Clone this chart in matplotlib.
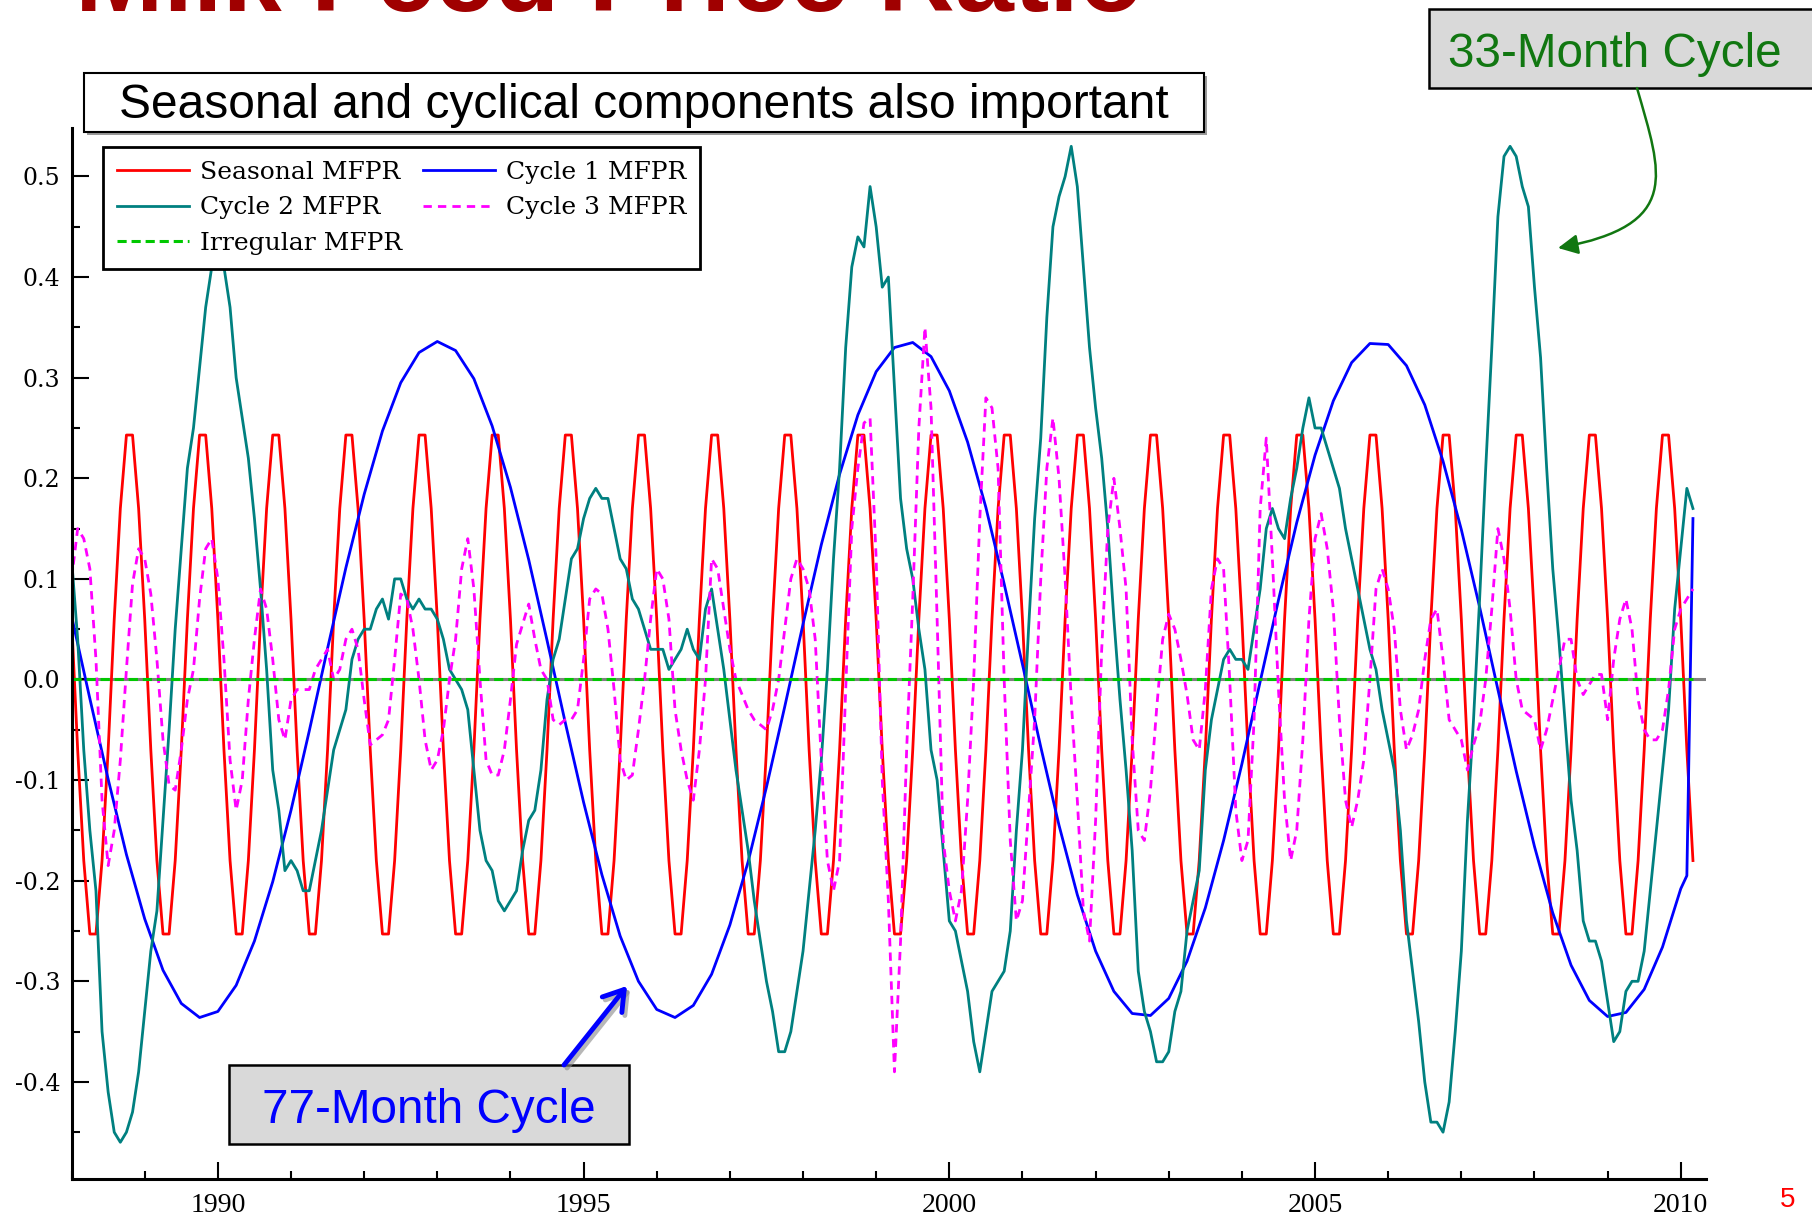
"""
Milk Feed Price Ratio: seasonal, cyclical and irregular components,
monthly from Jan 1988 to Mar 2010, with the slide annotations.
"""

import numpy as np
import matplotlib
matplotlib.use("Agg")
import matplotlib.pyplot as plt
from matplotlib.patches import Rectangle, FancyArrowPatch
from matplotlib.path import Path
from matplotlib.ticker import MultipleLocator, FormatStrFormatter

plt.rcParams["axes.unicode_minus"] = False

# ---------------------------------------------------------------- data
START_YEAR = 1988

# seasonal factor, Jan..Dec (repeats identically every year)
SEASONAL_BY_MONTH = [0.06, -0.07, -0.18, -0.253, -0.253, -0.18,
                     -0.07, 0.06, 0.17, 0.243, 0.243, 0.17]

# 77-month cycle, read every third month (month index from Jan 1988)
CYCLE1_MONTHS = list(range(0, 265, 3)) + [265, 266]
CYCLE1 = [
    0.063, -0.019, -0.099, -0.174, -0.238, -0.289, -0.322, -0.336,
    -0.330, -0.304, -0.260, -0.201, -0.130, -0.051, 0.031, 0.111,
    0.184, 0.247, 0.295, 0.325, 0.336, 0.327, 0.299, 0.252,
    0.191, 0.119, 0.039, -0.043, -0.122, -0.194, -0.255, -0.300,
    -0.328, -0.336, -0.324, -0.293, -0.244, -0.181, -0.107, -0.027,
    0.055, 0.134, 0.204, 0.263, 0.306, 0.330, 0.335, 0.321,
    0.287, 0.236, 0.171, 0.095, 0.015, -0.067, -0.145, -0.214,
    -0.270, -0.310, -0.332, -0.334, -0.317, -0.280, -0.227, -0.160,
    -0.084, -0.002, 0.079, 0.156, 0.223, 0.277, 0.315, 0.334,
    0.333, 0.312, 0.273, 0.217, 0.149, 0.072, -0.010, -0.091,
    -0.166, -0.232, -0.284, -0.319, -0.335, -0.331, -0.308, -0.266,
    -0.208, -0.195, 0.16,
]

# 33-month cycle, monthly (one row per year)
CYCLE2 = [
    0.12, 0.04, -0.07, -0.15, -0.21, -0.35, -0.41, -0.45, -0.46, -0.45, -0.43, -0.39,
    -0.33, -0.27, -0.23, -0.14, -0.05, 0.05, 0.13, 0.21, 0.25, 0.31, 0.37, 0.41,
    0.42, 0.41, 0.37, 0.30, 0.26, 0.22, 0.16, 0.09, 0.01, -0.09, -0.13, -0.19,
    -0.18, -0.19, -0.21, -0.21, -0.18, -0.15, -0.11, -0.07, -0.05, -0.03, 0.02, 0.04,
    0.05, 0.05, 0.07, 0.08, 0.06, 0.10, 0.10, 0.08, 0.07, 0.08, 0.07, 0.07,
    0.06, 0.04, 0.01, 0.00, -0.01, -0.03, -0.09, -0.15, -0.18, -0.19, -0.22, -0.23,
    -0.22, -0.21, -0.17, -0.14, -0.13, -0.09, -0.02, 0.02, 0.04, 0.08, 0.12, 0.13,
    0.16, 0.18, 0.19, 0.18, 0.18, 0.15, 0.12, 0.11, 0.08, 0.07, 0.05, 0.03,
    0.03, 0.03, 0.01, 0.02, 0.03, 0.05, 0.03, 0.02, 0.07, 0.09, 0.05, 0.01,
    -0.04, -0.09, -0.13, -0.17, -0.22, -0.26, -0.30, -0.33, -0.37, -0.37, -0.35, -0.31,
    -0.27, -0.21, -0.15, -0.08, 0.01, 0.12, 0.21, 0.33, 0.41, 0.44, 0.43, 0.49,
    0.45, 0.39, 0.40, 0.29, 0.18, 0.13, 0.10, 0.05, 0.01, -0.07, -0.10, -0.17,
    -0.24, -0.25, -0.28, -0.31, -0.36, -0.39, -0.35, -0.31, -0.30, -0.29, -0.25, -0.15,
    -0.07, 0.05, 0.16, 0.24, 0.36, 0.45, 0.48, 0.50, 0.53, 0.49, 0.41, 0.33,
    0.27, 0.22, 0.15, 0.06, -0.02, -0.09, -0.17, -0.29, -0.33, -0.35, -0.38, -0.38,
    -0.37, -0.33, -0.31, -0.25, -0.22, -0.19, -0.09, -0.04, -0.01, 0.02, 0.03, 0.02,
    0.02, 0.01, 0.05, 0.09, 0.15, 0.17, 0.15, 0.14, 0.18, 0.21, 0.25, 0.28,
    0.25, 0.25, 0.23, 0.21, 0.19, 0.15, 0.12, 0.09, 0.06, 0.03, 0.01, -0.03,
    -0.06, -0.09, -0.15, -0.24, -0.29, -0.34, -0.40, -0.44, -0.44, -0.45, -0.42, -0.35,
    -0.27, -0.14, -0.04, 0.08, 0.21, 0.33, 0.46, 0.52, 0.53, 0.52, 0.49, 0.47,
    0.39, 0.32, 0.21, 0.11, 0.04, -0.04, -0.12, -0.17, -0.24, -0.26, -0.26, -0.28,
    -0.32, -0.36, -0.35, -0.31, -0.30, -0.30, -0.27, -0.21, -0.15, -0.09, -0.03, 0.07,
    0.13, 0.19, 0.17,
]

# short cycle, monthly (one row per year)
CYCLE3 = [
    0.10, 0.15, 0.14, 0.11, 0.02, -0.12, -0.185, -0.15, -0.08, 0.01, 0.095, 0.13,
    0.12, 0.085, 0.02, -0.06, -0.105, -0.11, -0.07, -0.02, 0.01, 0.08, 0.13, 0.14,
    0.10, 0.02, -0.08, -0.13, -0.10, -0.02, 0.04, 0.09, 0.07, 0.02, -0.04, -0.06,
    -0.02, -0.01, -0.01, -0.01, 0.01, 0.02, 0.03, 0.00, 0.01, 0.04, 0.05, 0.03,
    -0.02, -0.065, -0.06, -0.055, -0.04, 0.02, 0.085, 0.08, 0.05, 0.00, -0.06, -0.09,
    -0.08, -0.05, 0.00, 0.04, 0.11, 0.14, 0.09, 0.00, -0.08, -0.095, -0.095, -0.07,
    -0.02, 0.035, 0.055, 0.075, 0.04, 0.01, 0.00, -0.04, -0.045, -0.04, -0.04, -0.03,
    0.02, 0.08, 0.09, 0.085, 0.05, -0.01, -0.08, -0.10, -0.095, -0.05, 0.00, 0.06,
    0.11, 0.10, 0.06, -0.03, -0.07, -0.10, -0.12, -0.07, 0.00, 0.12, 0.11, 0.07,
    0.03, 0.00, -0.015, -0.03, -0.04, -0.045, -0.05, -0.03, 0.00, 0.05, 0.10, 0.12,
    0.11, 0.09, 0.04, -0.08, -0.18, -0.21, -0.18, -0.01, 0.15, 0.21, 0.255, 0.26,
    0.12, -0.10, -0.22, -0.39, -0.26, -0.07, 0.08, 0.25, 0.35, 0.27, 0.06, -0.16,
    -0.21, -0.24, -0.21, -0.12, 0.00, 0.16, 0.28, 0.27, 0.21, 0.00, -0.16, -0.24,
    -0.22, -0.13, -0.04, 0.10, 0.21, 0.26, 0.20, 0.10, -0.02, -0.12, -0.23, -0.26,
    -0.14, 0.03, 0.15, 0.20, 0.15, 0.09, -0.06, -0.15, -0.16, -0.11, -0.03, 0.04,
    0.065, 0.05, 0.02, -0.015, -0.06, -0.07, -0.01, 0.09, 0.12, 0.11, 0.00, -0.13,
    -0.18, -0.16, -0.04, 0.17, 0.24, 0.12, -0.01, -0.12, -0.18, -0.15, -0.06, 0.06,
    0.14, 0.165, 0.13, 0.07, -0.04, -0.12, -0.147, -0.12, -0.08, 0.00, 0.09, 0.11,
    0.09, 0.05, -0.03, -0.07, -0.055, -0.03, 0.02, 0.06, 0.07, 0.02, -0.04, -0.05,
    -0.06, -0.09, -0.065, -0.045, 0.00, 0.07, 0.15, 0.12, 0.07, 0.00, -0.03, -0.035,
    -0.04, -0.07, -0.05, -0.02, 0.01, 0.04, 0.04, 0.00, -0.015, -0.005, 0.005, 0.005,
    -0.04, 0.02, 0.06, 0.08, 0.05, -0.02, -0.05, -0.06, -0.06, -0.05, -0.01, 0.05,
    0.07, 0.08, 0.09,
]

# irregular component sits on zero for the whole span
IRREGULAR_MONTHS = [0, 266]
IRREGULAR = [0.0, 0.0]

# ---------------------------------------------------------------- style
W, H = 1812, 1221
RED = "#ff0000"
BLUE = "#0000ff"
TEAL = "#008080"
MAGENTA = "#ff00ff"
GREEN = "#00c800"
DARK_GREEN = "#117711"
BOX_GRAY = "#d9d9d9"


def fx(x):
    return x / W


def fy(y):
    return 1 - y / H


def month_to_year(m):
    return START_YEAR + np.asarray(m, dtype=float) / 12.0


def main():
    months = np.arange(len(CYCLE2))
    t = month_to_year(months)
    seasonal = np.tile(SEASONAL_BY_MONTH, len(months) // 12 + 1)[:len(months)]

    fig = plt.figure(figsize=(W / 100, H / 100), dpi=100)
    ax = fig.add_axes([0.0395, 0.034, 0.9018, 0.861])

    ax.axhline(0, color="#808080", lw=2.2, zorder=1)
    lw = 2.0
    h_seas, = ax.plot(t, seasonal, color=RED, lw=lw, label="Seasonal MFPR")
    h_c1, = ax.plot(month_to_year(CYCLE1_MONTHS), CYCLE1, color=BLUE, lw=lw,
                    label="Cycle 1 MFPR")
    h_c2, = ax.plot(t, CYCLE2, color=TEAL, lw=lw, label="Cycle 2 MFPR")
    h_c3, = ax.plot(t, CYCLE3, color=MAGENTA, lw=lw, dashes=(3, 2.2),
                    label="Cycle 3 MFPR")
    h_irr, = ax.plot(month_to_year(IRREGULAR_MONTHS), IRREGULAR, color=GREEN,
                     lw=2.2, dashes=(3, 1.6), label="Irregular MFPR")

    ax.set_xlim(1988, 2010.34)
    ax.set_ylim(-0.497, 0.548)

    ax.xaxis.set_major_locator(MultipleLocator(5))
    ax.xaxis.set_minor_locator(MultipleLocator(1))
    ax.yaxis.set_major_locator(MultipleLocator(0.1))
    ax.yaxis.set_minor_locator(MultipleLocator(0.05))
    ax.xaxis.set_major_formatter(FormatStrFormatter("%d"))
    ax.yaxis.set_major_formatter(FormatStrFormatter("%.1f"))

    ax.tick_params(which="both", direction="in", color="black", width=1.5)
    ax.tick_params(which="major", length=12)
    ax.tick_params(which="minor", length=6)
    ax.tick_params(axis="x", pad=10, labelsize=20)
    ax.tick_params(axis="y", pad=8, labelsize=17)
    for lab in ax.get_xticklabels():
        lab.set_family("Liberation Serif")
    for lab in ax.get_yticklabels():
        lab.set_family("DejaVu Serif")

    for s in ("top", "right"):
        ax.spines[s].set_visible(False)
    for s in ("left", "bottom"):
        ax.spines[s].set_linewidth(2.2)
        ax.spines[s].set_color("black")

    leg = ax.legend(handles=[h_seas, h_c2, h_irr, h_c1, h_c3], ncol=2,
                    loc="upper left", bbox_to_anchor=(0.0192, 0.982),
                    borderaxespad=0, fancybox=False, framealpha=1,
                    edgecolor="black",
                    prop={"family": "DejaVu Serif", "size": 18},
                    handlelength=2.9, handletextpad=0.45, columnspacing=0.8,
                    labelspacing=0.5, borderpad=0.55)
    leg.get_frame().set_linewidth(2)

    # slide title, cut off by the top edge
    fig.text(fx(75), fy(11), "Milk Feed Price Ratio", fontsize=76.5,
             fontweight="bold", color="#a00000", family="Liberation Sans",
             ha="left", va="baseline")

    # subtitle box
    fig.add_artist(Rectangle((fx(87), fy(135)), 1120 / W, 59 / H,
                             transform=fig.transFigure, facecolor="#9a9a9a",
                             edgecolor="none"))
    fig.add_artist(Rectangle((fx(84), fy(132)), 1120 / W, 59 / H,
                             transform=fig.transFigure, facecolor="white",
                             edgecolor="black", lw=1.5))
    fig.text(fx(644), fy(118), "Seasonal and cyclical components also important",
             fontsize=34.5, family="Liberation Sans", ha="center",
             va="baseline", color="black")

    # 33-month call-out
    fig.add_artist(Rectangle((fx(1429), fy(88)), 420 / W, 79 / H,
                             transform=fig.transFigure, facecolor=BOX_GRAY,
                             edgecolor="black", lw=1.8))
    fig.text(fx(1448), fy(67), "33-Month Cycle", fontsize=34.3,
             family="Liberation Sans", color=DARK_GREEN, ha="left",
             va="baseline")
    curve = Path([(fx(1637), fy(88)), (fx(1662), fy(175)),
                  (fx(1682), fy(225)), (fx(1558), fy(248))],
                 [Path.MOVETO, Path.CURVE4, Path.CURVE4, Path.CURVE4])
    fig.add_artist(FancyArrowPatch(path=curve, transform=fig.transFigure,
                                   arrowstyle="-|>,head_length=0.6,head_width=0.3",
                                   mutation_scale=20, color=DARK_GREEN, lw=1.8))

    # 77-month call-out
    fig.add_artist(Rectangle((fx(229), fy(1144)), 400 / W, 79 / H,
                             transform=fig.transFigure, facecolor=BOX_GRAY,
                             edgecolor="black", lw=1.8))
    fig.text(fx(262), fy(1123), "77-Month Cycle", fontsize=34.3,
             family="Liberation Sans", color=BLUE, ha="left", va="baseline")
    for dx, col, a in ((3, "#888888", 0.6), (0, BLUE, 1.0)):
        fig.add_artist(FancyArrowPatch(
            (fx(564 + dx), fy(1065 + dx)), (fx(627 + dx), fy(986 + dx)),
            transform=fig.transFigure, arrowstyle="->,head_length=0.7,head_width=0.45",
            mutation_scale=20, color=col, alpha=a, lw=3.5,
            shrinkA=0, shrinkB=0))

    # page number
    fig.text(fx(1788), fy(1200), "5", fontsize=20, color="#ff0000",
             family="Liberation Sans", ha="center", va="center")

    fig.savefig("out.png", dpi=100, facecolor="white")
    plt.close(fig)


if __name__ == "__main__":
    main()
